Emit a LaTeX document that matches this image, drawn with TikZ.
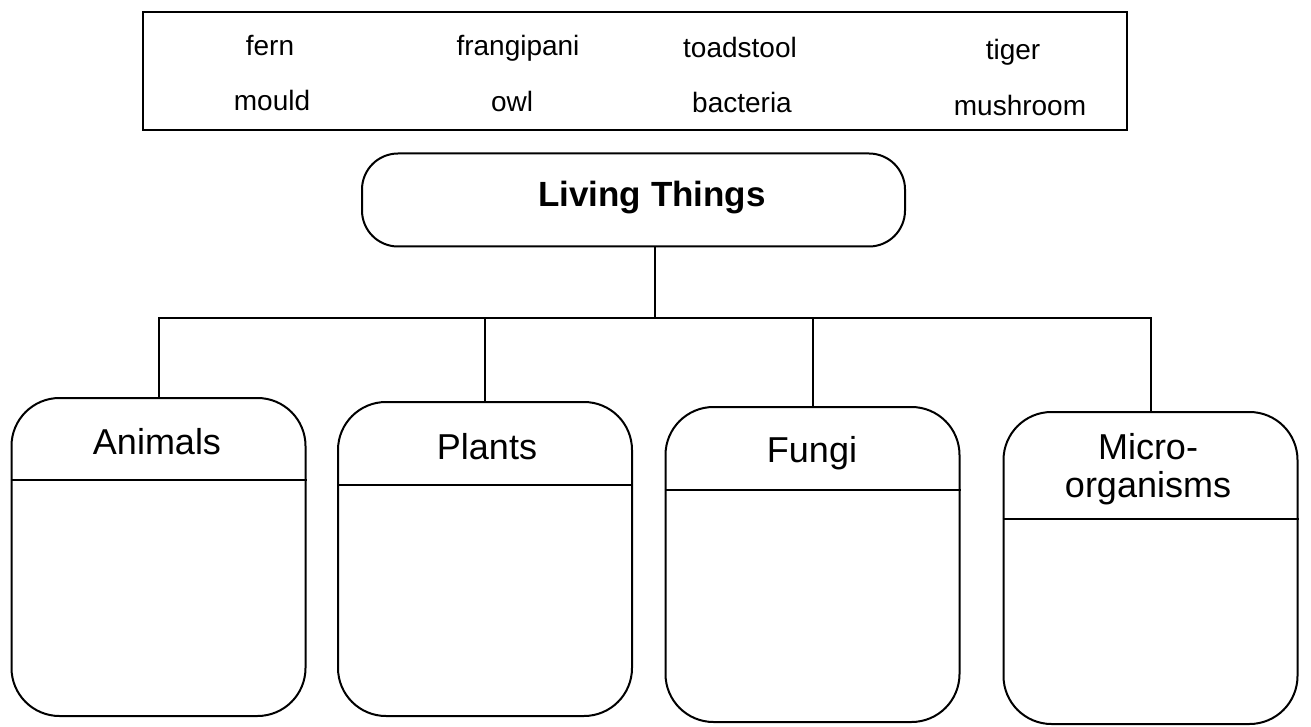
\documentclass[tikz,border=0pt]{standalone}
\usepackage{fontspec}
\setmainfont{Liberation Sans}
\usetikzlibrary{positioning}

\begin{document}
\begin{tikzpicture}[
  x=1pt, y=-1pt,
  line width=2pt,
  word/.style={font=\fontsize{28}{30}\selectfont, inner sep=0pt, anchor=base},
  listbox/.style={draw, minimum width=984pt, minimum height=118pt, inner sep=0pt},
  rootbox/.style={draw, rounded corners=36pt, minimum width=543pt, minimum height=93pt,
                  inner sep=0pt},
  group/.style={draw, rounded corners=48pt, minimum width=294pt, inner sep=0pt},
  head/.style={font=\fontsize{36}{38}\selectfont, align=center, inner sep=0pt},
  link/.style={draw=black}
]
\useasboundingbox (0,0) rectangle (1311,727);

% list of words
\node[listbox] (list) at (635,71) {};
\node[word] (fern)       at (270,56) {fern};
\node[word] (frangipani) at (518,56) {frangipani};
\node[word] (toadstool)  at (740,58) {toadstool};
\node[word] (tiger)      at (1013,60) {tiger};
\node[word] (mould)      at (272,111) {mould};
\node[word] (owl)        at (512,112) {owl};
\node[word] (bacteria)   at (742,113) {bacteria};
\node[word] (mushroom)   at (1020,116) {mushroom};

% root
\node[rootbox] (root) at (633.5,200) {};
\node[font=\bfseries\fontsize{35}{38}\selectfont, inner sep=0pt] (rootText) at (652,198) {Living Things};

% groups
\node[group, minimum height=318pt] (animals) at (158.5,557) {};
\node[group, minimum height=314pt] (plants)  at (485,559)   {};
\node[group, minimum height=315pt] (fungi)   at (812.5,564.5) {};
\node[group, minimum height=312pt] (micro)   at (1150.5,568) {};

\node[head] (animalsHead) at (157,442) {Animals};
\node[head] (plantsHead)  at (487,447) {Plants};
\node[head] (fungiHead)   at (812,453) {Fungi};
\node[head] (microHead)   at (1148,469) {Micro-\\organisms};

\draw[link] (animals.west |- 0,480) -- (animals.east |- 0,480);
\draw[link] (plants.west |- 0,485)  -- (plants.east |- 0,485);
\draw[link] (fungi.west |- 0,490)   -- (fungi.east |- 0,490);
\draw[link] (micro.west |- 0,519)   -- (micro.east |- 0,519);

% connectors
\coordinate (bus) at (655,318);
\draw[link] (root.south -| bus) -- (bus);
\draw[link] (animals.north) |- (bus) -| (micro.north);
\draw[link] (plants.north) -- (plants.north |- bus);
\draw[link] (fungi.north) -- (fungi.north |- bus);
\end{tikzpicture}
\end{document}
